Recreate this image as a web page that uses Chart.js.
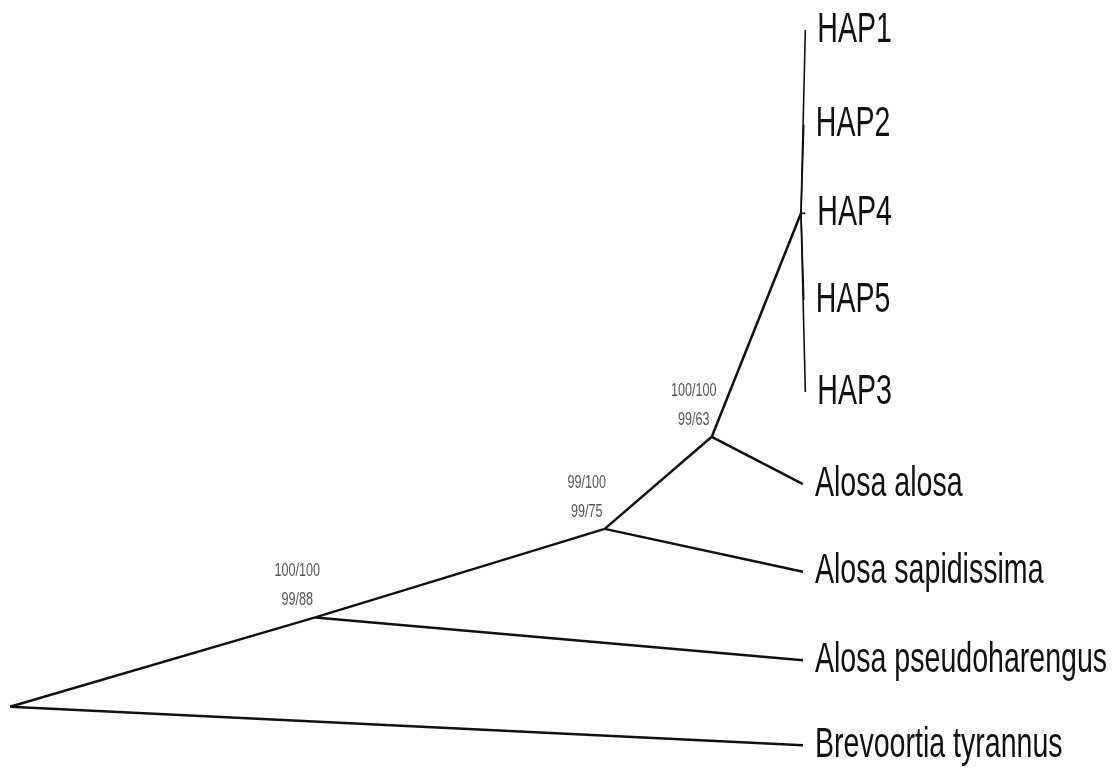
<!DOCTYPE html>
<html>
<head>
<meta charset="utf-8">
<script src="https://cdn.jsdelivr.net/npm/chart.js@4/dist/chart.umd.min.js"></script>
<style>
  html, body { margin: 0; padding: 0; background: #fff; }
  canvas { display: block; }
</style>
</head>
<body>
<canvas id="tree" width="1115" height="775"></canvas>
<script>
// internal nodes: distance from root and vertical position (leaf units)
const nodeNames = ['root', 'clupeinae', 'alosa', 'alosaAlosa', 'hap'];
const nodeX = [0, 0.385, 0.750, 0.885, 0.9975];
const nodeY = [8.57, 7.57, 6.58, 5.55, 3.05];
const nodeParent = [-1, 0, 1, 2, 3];
const supportTop = ['', '100/100', '99/100', '100/100', ''];
const supportBottom = ['', '99/88', '99/75', '99/63', ''];

// tips
const tipLabels = ['HAP1', 'HAP2', 'HAP4', 'HAP5', 'HAP3', 'Alosa alosa', 'Alosa sapidissima', 'Alosa pseudoharengus', 'Brevoortia tyrannus'];
const tipX = [1.003, 1.001, 1.003, 1.001, 1.003, 1, 1, 1, 1];
const tipY = [1.00, 2.06, 3.05, 4.02, 5.05, 6.08, 7.06, 8.05, 9.00];
const tipParent = [4, 4, 4, 4, 4, 3, 2, 1, 0];

const datasets = [];
nodeParent.forEach((p, i) => {
  if (p < 0) return;
  datasets.push({
    data: [{ x: nodeX[p], y: nodeY[p] }, { x: nodeX[i], y: nodeY[i] }],
    borderWidth: 2.5
  });
});
tipParent.forEach((p, i) => {
  datasets.push({
    data: [{ x: nodeX[p], y: nodeY[p] }, { x: tipX[i], y: tipY[i] }],
    borderWidth: p === 4 ? 1.6 : 2.5
  });
});
datasets.forEach(d => {
  d.showLine = true;
  d.borderColor = '#111';
  d.pointRadius = 0;
  d.clip = false;
});

const treeLabels = {
  id: 'treeLabels',
  afterDatasetsDraw(chart) {
    const { ctx, scales: { x, y } } = chart;
    ctx.save();
    ctx.textBaseline = 'middle';

    // tip names
    ctx.fillStyle = '#111';
    ctx.font = '42px "Liberation Sans", Arial, sans-serif';
    ctx.textAlign = 'left';
    tipLabels.forEach((t, i) => {
      ctx.save();
      ctx.translate(x.getPixelForValue(tipX[i]) + 12, y.getPixelForValue(tipY[i]));
      ctx.scale(0.68, 1);
      ctx.fillText(t, 0, 0);
      ctx.restore();
    });

    // bootstrap / support values
    ctx.fillStyle = '#555';
    ctx.font = '18px "Liberation Sans", Arial, sans-serif';
    ctx.textAlign = 'center';
    nodeNames.forEach((n, i) => {
      if (!supportTop[i]) return;
      const px = x.getPixelForValue(nodeX[i]) - 18;
      const py = y.getPixelForValue(nodeY[i]);
      [[supportTop[i], -46], [supportBottom[i], -17]].forEach(([t, dy]) => {
        ctx.save();
        ctx.translate(px, py + dy);
        ctx.scale(0.7, 1);
        ctx.fillText(t, 0, 0);
        ctx.restore();
      });
    });
    ctx.restore();
  }
};

new Chart(document.getElementById('tree'), {
  type: 'scatter',
  data: { datasets },
  options: {
    responsive: false,
    animation: false,
    layout: { padding: 0 },
    plugins: { legend: { display: false }, tooltip: { enabled: false } },
    scales: {
      x: { type: 'linear', min: -0.01261, max: 1.3935, display: false },
      y: { type: 'linear', min: 0.664, max: 9.333, reverse: true, display: false }
    }
  },
  plugins: [treeLabels]
});
</script>
</body>
</html>
